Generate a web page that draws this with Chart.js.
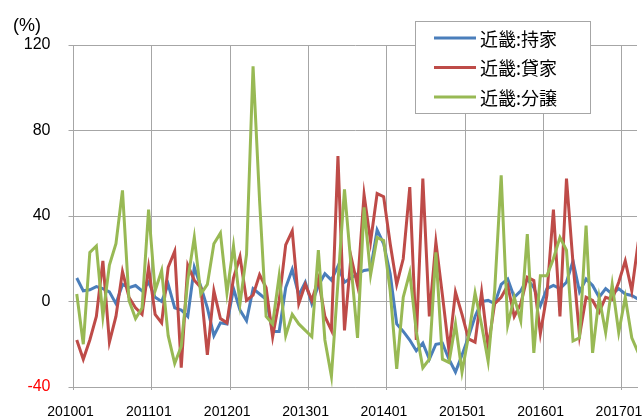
<!DOCTYPE html>
<html>
<head>
<meta charset="utf-8">
<script src="https://cdn.jsdelivr.net/npm/chart.js"></script>
<title>近畿 新設住宅着工 前年同月比</title>
<style>
  body { margin: 0; background: #fff; }
</style>
</head>
<body>
<canvas id="myChart" width="642" height="417"></canvas>

<script>
// year labels, one per January (every 12 months)
const yearLabels = ['201001', '201101', '201201', '201301', '201401', '201501', '201601', '201701'];

// monthly change, 201001 - 201703 (%)
const mochiie = [11, 5, 5.5, 7, 6, 4.5, -1, 8, 6.5, 7.5, 5, 9,
  2, 0, 8, -3, -4, -7, 16, 7, -3, -16, -10, -10.5,
  6, -4, -9, 6, 3.5, 1, -14, -14, 6.5, 15, 3, 9,
  -1, 7.5, 13, 10, 16.5, 9, 11, 13, 14.5, 15, 33.5, 27,
  13, -10.5, -14, -18, -23, -19.5, -27, -20, -19.5, -27, -33, -25,
  -16.5, -7, 0, 0.5, -1, 8, 10.5, 2, 5, 10.5, 6.5, -2,
  6, 7.5, 6, 9, 19, 4.5, 10.5, 7.5, 2, 6, 3.5, 6,
  3.5, 2.8, 1];

const kashiya = [-18, -27, -18, -7, 19, -19, -7, 14, 2, -3, -6, 16,
  -6, -10, 16, 23.5, -31, 17, 10, 6.5, -25, 5, -8, -10,
  11, 21, 0.5, 3, 12.5, 6.5, -16.5, 0.5, 26.5, 33, -1, 8,
  0.5, 10.5, -7, -13.5, 68, -13.5, 21, 7.5, 50, 28, 50.5, 49,
  27, 8, 20, 53.5, -18, 57.5, -7, 27.8, 3, -23, 4.4, -6,
  -17.5, -19, 4.4, -21.4, -1, 2, 7.5, -7, -1, 11.4, 9.8, -15,
  3, 43, -7, 57.5, 18, -16, 2, 0.5, -5, 2, 1, 9,
  19, 5, 28];

const bunjo = [3.5, -20, 23, 26, -7, 17, 27, 52, 0.5, -8, -3, 43,
  5, 14.5, -16, -29, -21, 10, 30, 3.5, 8, 27, 32, 4,
  26, -1, 22, 110, 47, -7, -10.5, 12, -16, -6, -10.5, -13.5,
  -16.5, 24, -18, -35, 9, 52.5, 17, -17, 44, 12.5, 30, 28.5,
  5, -31.5, 2, 13.5, -14, -31, -27, 23, -27, -28.5, -10.5, -33,
  -16, 4, -11, -28, 5, 59, -11, 2, -9, 31.5, -24, 12,
  12, 20, 30, 24, -18.5, -17, 35.5, -24, 2, -14.5, 8, -14.5,
  2, -17, -24];

const seriesNames = ['近畿:持家', '近畿:貸家', '近畿:分譲'];
const seriesColors = ['#4a7ebb', '#be4b48', '#98b954'];

const gridColor = '#a6a6a6';
const fontFamily = '"Liberation Sans", Arial, sans-serif';

// each month sits in the middle of its slot
function toPoints(values) {
  return values.map((v, i) => ({ x: i + 0.5, y: v }));
}

// legend box inside the plot + unit label
const boxLegend = {
  id: 'boxLegend',
  afterDraw(chart) {
    const ctx = chart.ctx;
    ctx.save();
    ctx.fillStyle = '#fff';
    ctx.fillRect(415, 21, 176, 93);
    ctx.strokeStyle = gridColor;
    ctx.lineWidth = 1;
    ctx.strokeRect(415.5, 21.5, 175, 92);

    chart.data.datasets.forEach((ds, i) => {
      const y = 38 + i * 29.5;
      ctx.strokeStyle = ds.borderColor;
      ctx.lineWidth = 3;
      ctx.beginPath();
      ctx.moveTo(434, y);
      ctx.lineTo(476, y);
      ctx.stroke();
      ctx.fillStyle = '#000';
      ctx.font = '18px "Noto Sans CJK JP", sans-serif';
      ctx.textBaseline = 'middle';
      ctx.fillText(ds.label, 480, y + 1);
    });

    ctx.fillStyle = '#000';
    ctx.font = '18px ' + fontFamily;
    ctx.textBaseline = 'middle';
    ctx.fillText('(%)', 13, 26);
    ctx.restore();
  }
};

const ctx = document.getElementById('myChart');
const chart = new Chart(ctx, {
  type: 'line',
  data: {
    datasets: [mochiie, kashiya, bunjo].map((vals, i) => ({
      label: seriesNames[i],
      data: toPoints(vals),
      borderColor: seriesColors[i],
      backgroundColor: seriesColors[i],
      borderWidth: 3,
      pointRadius: 0,
      tension: 0,
      clip: 0,
      order: 3 - i
    }))
  },
  options: {
    responsive: false,
    animation: false,
    devicePixelRatio: 1,
    layout: { padding: { left: 0, right: 5, top: 45, bottom: 0 } },
    plugins: {
      legend: { display: false },
      tooltip: { enabled: false }
    },
    scales: {
      x: {
        type: 'linear',
        min: 0,
        max: 86.3,
        afterBuildTicks: scale => {
          scale.ticks = yearLabels.map((_, k) => ({ value: k * 12 }));
        },
        afterFit: scale => {
          scale.height = 30;
          scale.paddingLeft = 0;
          scale.paddingRight = 0;
        },
        grid: { color: gridColor, tickLength: 3 },
        border: { color: gridColor },
        ticks: {
          autoSkip: false,
          maxRotation: 0,
          padding: 14,
          labelOffset: -3,
          color: '#000',
          font: { family: fontFamily, size: 14 },
          callback: (value, index) => yearLabels[index]
        }
      },
      y: {
        min: -40,
        max: 120,
        afterFit: scale => { scale.width = 73.5; },
        grid: { color: gridColor, tickLength: 5 },
        border: { color: gridColor },
        ticks: {
          stepSize: 40,
          padding: 18,
          font: { family: fontFamily, size: 16 },
          color: c => (c.tick.value < 0 ? '#ff0000' : '#000')
        }
      }
    }
  },
  plugins: [boxLegend]
});
</script>
</body>
</html>
